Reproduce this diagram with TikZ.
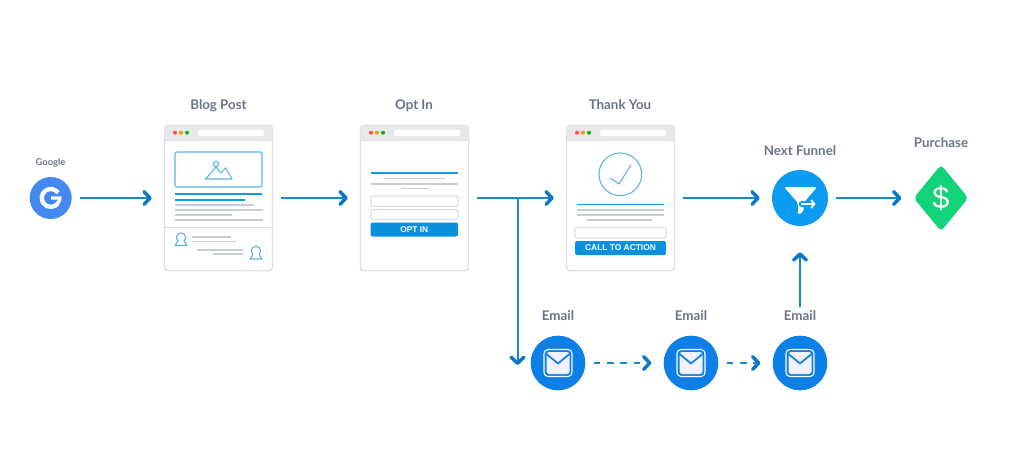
\documentclass[tikz,border=0pt]{standalone}
\usepackage{fontspec}
\setmainfont{Lato}
\newfontfamily\btnfont{Liberation Sans}
\usetikzlibrary{arrows.meta}
\usetikzlibrary{shapes.geometric}
\definecolor{labelgrey}{HTML}{6B7488}
\definecolor{flowblue}{HTML}{1A88D4}
\definecolor{headblue}{HTML}{0B78C6}
\definecolor{iconblue}{HTML}{5AB4E8}
\definecolor{barblue}{HTML}{159BE6}
\definecolor{btnblue}{HTML}{0A90DC}
\definecolor{mailblue}{HTML}{0D80E8}
\definecolor{funnelblue}{HTML}{0B9BF0}
\definecolor{googleblue}{HTML}{4688F1}
\definecolor{buygreen}{HTML}{12D27A}
\definecolor{edgegrey}{HTML}{DDE0E6}
\definecolor{chromegrey}{HTML}{E6E8EC}
\definecolor{linegrey}{HTML}{C8CCD5}
\tikzset{
  steplabel/.style={text=labelgrey,font=\fontsize{10pt}{12pt}\bfseries,inner sep=0pt,anchor=base},
  browser/.style={draw=edgegrey,line width=1.1pt,rounded corners=2.5pt,fill=white,
    minimum width=81pt,minimum height=109pt,inner sep=0pt},
  flow/.style={draw=flowblue,line width=1.5pt,
    -{Straight Barb[round,length=4.5pt,width=9.5pt,line width=2.6pt,color=headblue]},
    shorten <=6pt,shorten >=9pt},
  dashflow/.style={flow,dash pattern=on 5pt off 5pt},
  bluebar/.style={draw=barblue,line width=1.4pt},
  greybar/.style={draw=linegrey,line width=1.3pt},
  inputbox/.style={draw=edgegrey,line width=0.9pt,rounded corners=1.5pt,fill=white},
  actionbtn/.style={fill=btnblue,rounded corners=1.5pt,text=white,font=\btnfont\fontsize{6.3pt}{7pt}\selectfont\bfseries,inner sep=0pt},
  roundnode/.style={circle,inner sep=0pt,text=white},
  iconline/.style={draw=iconblue,line width=0.8pt,line join=round},
}
\begin{document}
\begin{tikzpicture}[x=0.75pt,y=-0.75pt]
    \useasboundingbox (0,0) rectangle (1024,457);

    % steps
    \node[roundnode,fill=googleblue,minimum size=31.5pt] (google) at (50.7,198) {};
    \node[browser] (blog) at (218.5,198) {};
    \node[browser] (optin) at (414.5,198) {};
    \node[browser] (thanks) at (620.5,198) {};
    \node[roundnode,fill=funnelblue,minimum size=42pt] (funnel) at (800,198) {};
    \node[diamond,aspect=0.82,fill=buygreen,rounded corners=3pt,inner sep=0pt,minimum width=41pt,minimum height=50pt] (purchase) at (941,198) {};

    % labels
    \node[steplabel,font=\fontsize{7pt}{8pt}\bfseries] (googlelab) at (50.5,165) {Google};
    \node[steplabel] (bloglab) at (218.5,109) {Blog Post};
    \node[steplabel] (optinlab) at (414,109) {Opt In};
    \node[steplabel] (thankslab) at (620,109) {Thank You};
    \node[steplabel] (funnellab) at (800,155) {Next Funnel};
    \node[steplabel] (purchaselab) at (941,147) {Purchase};

    % logo and dollar
    \draw[white,line width=3.2pt] (58.1,192.8) arc[start angle=-35,end angle=-325,radius=9];
    \draw[white,line width=2.6pt] (51,198) -- (59.7,198) arc[start angle=0,end angle=35,radius=9];
    \node[text=white,font=\btnfont\fontsize{23pt}{23pt}\selectfont,inner sep=0pt] (dollar) at (941,198) {\$};

    % browser top bars
    \foreach \page/\px in {blog/164,optin/360,thanks/566} {
        \fill[chromegrey,rounded corners=2pt] (\px+0.7,140.5) -- (\px+0.7,125.7) -- (\px+108.3,125.7) -- (\px+108.3,140.5) -- cycle;
        \draw[edgegrey,line width=0.6pt] (\px,140.7) -- (\px+109,140.7);
        \fill[white,rounded corners=1pt] (\px+34,129.5) rectangle (\px+100,136);
        \fill[red!70!white] (\px+11,132.7) circle (1.5pt);
        \fill[orange!80!yellow] (\px+17,132.7) circle (1.5pt);
        \fill[green!65!black!90] (\px+23,132.7) circle (1.5pt);
    }

    % blog page
    \draw[iconline,rounded corners=1pt] (175,152) rectangle (262,187);
    \draw[iconline] (205.5,179) -- (216,167) -- (221,173) -- (225.5,168) -- (232,179) -- cycle;
    \draw[iconline] (216,164) circle (2pt);
    \draw[bluebar] (175,194.3) -- (262,194.3);
    \draw[bluebar] (175,199.7) -- (245,199.7);
    \foreach \a/\b/\y in {175/254/204.7,175/263/209.7,175/232/215,175/263/220,192/231/237,192/236/241.5,197/243/249.7,213/243/254} {
        \draw[greybar] (\a,\y) -- (\b,\y);
    }
    \draw[edgegrey,line width=0.7pt] (164,227.5) -- (273,227.5);
    \foreach \x/\y in {181/239.5,256/253} {
        \draw[iconline] (\x-6,\y+6) .. controls (\x-6,\y+3.5) and (\x-2.5,\y+3.5) .. (\x-3,\y+1.5) .. controls (\x-5.5,\y-1) and (\x-5,\y-6.5) .. (\x,\y-6.5) .. controls (\x+5,\y-6.5) and (\x+5.5,\y-1) .. (\x+3,\y+1.5) .. controls (\x+2.5,\y+3.5) and (\x+6,\y+3.5) .. (\x+6,\y+6) -- cycle;
    }

    % opt in page
    \draw[bluebar] (370.5,173.3) -- (458,173.3);
    \foreach \a/\b/\y in {384/445/178.5,370.5/458/183.7,401/428/188.5} {
        \draw[greybar] (\a,\y) -- (\b,\y);
    }
    \draw[inputbox] (371,196) rectangle (458,206.5);
    \draw[inputbox] (371,209.5) rectangle (458,219.5);
    \node[actionbtn,minimum width=65.6pt,minimum height=10.5pt] (optinbtn) at (414.3,229.5) {OPT IN};

    % thank you page
    \draw[iconline] (620.3,174.3) circle (16pt);
    \draw[iconline] (610,178) -- (619,184) -- (631,165);
    \draw[bluebar] (577,204.5) -- (664,204.5);
    \foreach \a/\b/\y in {577/664/210,577/664/215,587/652/220} {
        \draw[greybar] (\a,\y) -- (\b,\y);
    }
    \draw[inputbox] (575,227.5) rectangle (666,238);
    \node[actionbtn,minimum width=68.2pt,minimum height=10.5pt] (thanksbtn) at (620.5,248) {CALL TO ACTION};

    % funnel icon
    \fill[white,rounded corners=1.5pt] (784,187) -- (817,187) -- (803.5,203) -- (803.5,212) -- (798,214.5) -- (798,203) -- cycle;
    \draw[funnelblue,line width=5pt,line cap=round] (802,204) -- (813,204);
    \draw[white,line width=1.3pt,-{Straight Barb[length=2.5pt,width=6pt,line width=1.3pt]}] (800.5,204) -- (815.5,204);

    % emails
    \foreach \name/\x in {mailA/558,mailB/691,mailC/800} {
        \node[roundnode,fill=mailblue,minimum size=41pt] (\name) at (\x,363) {};
        \node[steplabel] (\name lab) at (\x,320) {Email};
        \draw[white,line width=0.8pt,rounded corners=3pt] (\x-14,349.5) rectangle (\x+14,376.5);
        \fill[white!95!blue,rounded corners=2pt] (\x-11.5,352) rectangle (\x+11.5,374);
        \draw[mailblue,line width=1.3pt] (\x-11.5,354) -- (\x,363.5) -- (\x+11.5,354);
    }

    \coordinate (branch) at (517.5,198);
    \coordinate (branchend) at (517.5,365);

    % connectors
    \draw[flow] (google) -- (blog);
    \draw[flow] (blog) -- (optin);
    \draw[flow] (optin) -- (thanks);
    \draw[flow] (thanks) -- (funnel);
    \draw[flow] (funnel) -- (purchase);
    \draw[flow,shorten <=0pt,shorten >=0pt] (branch) -- (branchend);
    \draw[dashflow] (mailA) -- (mailB);
    \draw[dashflow] (mailB) -- (mailC);
    \draw[flow,shorten <=2pt,shorten >=19.5pt] (mailClab) -- (funnel);
\end{tikzpicture}
\end{document}
